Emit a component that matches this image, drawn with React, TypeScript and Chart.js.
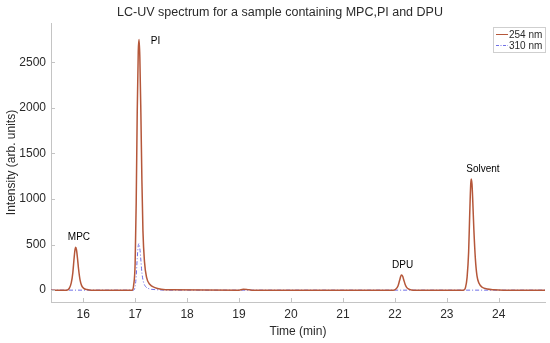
import React, { useEffect, useRef } from "react";
import { Chart, registerables } from "chart.js";

Chart.register(...registerables);

const TITLE = "LC-UV spectrum for a sample containing MPC,PI and DPU";
const X_LABEL = "Time (min)";
const Y_LABEL = "Intensity (arb. units)";
const SERIES_NAMES = ["254 nm", "310 nm"];
const X_MIN = 15.38;
const X_MAX = 24.89;
const Y_MIN = -130;
const Y_MAX = 2930;
const X_TICKS = [16, 17, 18, 19, 20, 21, 22, 23, 24];
const Y_TICKS = [0, 500, 1000, 1500, 2000, 2500];

// 254 nm trace (time, intensity)
const T254 = [
  15.38, 15.68, 15.73, 15.77, 15.8, 15.82, 15.84, 15.855, 15.87, 15.89, 15.91, 15.94, 15.97, 16.01, 16.07, 16.16,
  16.94, 16.97, 17.0, 17.02, 17.04, 17.06, 17.075, 17.09, 17.11, 17.13, 17.15, 17.18, 17.22, 17.28, 17.38, 17.5, 17.7,
  19.0, 19.08, 19.15, 19.25,
  21.97, 22.02, 22.06, 22.09, 22.115, 22.13, 22.15, 22.17, 22.2, 22.23, 22.28, 22.36,
  23.32, 23.36, 23.39, 23.42, 23.44, 23.46, 23.47, 23.485, 23.5, 23.52, 23.55, 23.58, 23.62, 23.68, 23.78, 23.9, 24.1,
  24.89,
];
const V254 = [
  0, 0, 18, 80, 190, 320, 435, 470, 445, 350, 235, 110, 50, 20, 6, 0,
  0, 50, 300, 950, 1950, 2620, 2750, 2560, 1950, 1200, 650, 310, 140, 65, 28, 10, 3,
  0, 10, 8, 0,
  0, 12, 45, 105, 155, 165, 152, 115, 60, 28, 9, 0,
  0, 30, 140, 420, 820, 1160, 1220, 1160, 970, 670, 340, 160, 75, 32, 12, 4, 0,
  0,
];

// 310 nm trace (time, intensity)
const T310 = [
  15.38, 16.97, 17.0, 17.02, 17.04, 17.06, 17.075, 17.09, 17.11, 17.13, 17.16, 17.2, 17.27, 17.4, 17.6, 24.89,
];
const V310 = [0, 0, 40, 150, 350, 490, 510, 460, 330, 190, 90, 40, 15, 5, 0, 0];

// Peak annotations
const PEAK_NAMES = ["MPC", "PI", "DPU", "Solvent"];
const PEAK_X = [15.86, 17.07, 22.13, 23.47];
const PEAK_Y = [470, 2750, 165, 1220];

const COLOR_254 = "#B5573A";
const COLOR_310 = "#6F6FE6";
const AXIS_COLOR = "#c4c4c4";
const TEXT_COLOR = "#2a2a2a";
const FONT = "'Liberation Sans', Arial, sans-serif";

export default function App() {
  const ref = useRef<HTMLCanvasElement | null>(null);

  useEffect(() => {
    if (!ref.current) return;
    const d254 = T254.map((t, i) => ({ x: t, y: V254[i] }));
    const d310 = T310.map((t, i) => ({ x: t, y: V310[i] }));

    const decor = {
      id: "decor",
      afterDraw(chart: any) {
        const ctx = chart.ctx;
        const xs = chart.scales.x;
        const ys = chart.scales.y;
        const area = chart.chartArea;
        ctx.save();
        // inward ticks
        ctx.strokeStyle = AXIS_COLOR;
        ctx.lineWidth = 1;
        X_TICKS.forEach((t) => {
          const px = Math.round(xs.getPixelForValue(t)) + 0.5;
          ctx.beginPath();
          ctx.moveTo(px, area.bottom);
          ctx.lineTo(px, area.bottom - 4);
          ctx.stroke();
        });
        Y_TICKS.forEach((t) => {
          const py = Math.round(ys.getPixelForValue(t)) + 0.5;
          ctx.beginPath();
          ctx.moveTo(area.left, py);
          ctx.lineTo(area.left + 4, py);
          ctx.stroke();
        });
        // title
        ctx.fillStyle = TEXT_COLOR;
        ctx.font = `12.5px ${FONT}`;
        ctx.textAlign = "center";
        ctx.textBaseline = "middle";
        ctx.fillText(TITLE, 280, 13);
        // peak labels
        ctx.font = `10px ${FONT}`;
        ctx.fillStyle = "#000";
        PEAK_NAMES.forEach((n, i) => {
          const px = xs.getPixelForValue(PEAK_X[i]);
          const py = ys.getPixelForValue(PEAK_Y[i]);
          if (n === "PI") {
            ctx.textAlign = "left";
            ctx.fillText(n, px + 12, py + 2);
          } else if (n === "Solvent") {
            ctx.textAlign = "left";
            ctx.fillText(n, px - 5, py - 10);
          } else {
            ctx.textAlign = "center";
            ctx.fillText(n, px + (n === "MPC" ? 3 : 1), py - 10);
          }
        });
        // legend
        const lx = 493, ly = 27, lw = 52, lh = 25;
        ctx.fillStyle = "#fff";
        ctx.fillRect(lx, ly, lw, lh);
        ctx.strokeStyle = "#cfcfcf";
        ctx.strokeRect(lx + 0.5, ly + 0.5, lw, lh);
        ctx.font = `10px ${FONT}`;
        ctx.textAlign = "left";
        ctx.fillStyle = TEXT_COLOR;
        const rows = [
          { c: COLOR_254, dash: [] as number[] },
          { c: COLOR_310, dash: [3, 1.5, 1, 1.5] },
        ];
        rows.forEach((r, i) => {
          const y = ly + 7.5 + i * 11;
          ctx.strokeStyle = r.c;
          ctx.setLineDash(r.dash);
          ctx.beginPath();
          ctx.moveTo(lx + 3, y);
          ctx.lineTo(lx + 15, y);
          ctx.stroke();
          ctx.setLineDash([]);
          ctx.fillText(SERIES_NAMES[i], lx + 16, y + 0.5);
        });
        ctx.restore();
      },
    };

    const chart = new Chart(ref.current, {
      type: "line",
      data: {
        datasets: [
          {
            label: SERIES_NAMES[0],
            data: d254,
            borderColor: COLOR_254,
            borderWidth: 1.5,
            pointRadius: 0,
            cubicInterpolationMode: "monotone",
            fill: false,
          },
          {
            label: SERIES_NAMES[1],
            data: d310,
            borderColor: COLOR_310,
            borderWidth: 1,
            borderDash: [4, 2, 1, 2],
            pointRadius: 0,
            cubicInterpolationMode: "monotone",
            fill: false,
          },
        ],
      },
      options: {
        animation: false,
        responsive: false,
        layout: { padding: { top: 23, right: 5, left: 0, bottom: 0 } },
        plugins: { legend: { display: false }, title: { display: false }, tooltip: { enabled: false } },
        scales: {
          x: {
            type: "linear",
            min: X_MIN,
            max: X_MAX,
            afterBuildTicks: (s: any) => {
              s.ticks = X_TICKS.map((v) => ({ value: v }));
            },
            afterFit: (s: any) => {
              s.height = 41;
            },
            grid: { display: true, drawOnChartArea: false, drawTicks: false, color: AXIS_COLOR },
            border: { display: true, color: AXIS_COLOR },
            ticks: {
              padding: 5,
              color: TEXT_COLOR,
              font: { family: FONT, size: 12 },
              maxRotation: 0,
              callback: (v: any) => String(v),
            },
            title: { display: true, text: X_LABEL, color: TEXT_COLOR, font: { family: FONT, size: 12 }, padding: { top: 0, bottom: 4 } },
          },
          y: {
            type: "linear",
            min: Y_MIN,
            max: Y_MAX,
            afterBuildTicks: (s: any) => {
              s.ticks = Y_TICKS.map((v) => ({ value: v }));
            },
            afterFit: (s: any) => {
              s.width = 51;
            },
            grid: { display: true, drawOnChartArea: false, drawTicks: false, color: AXIS_COLOR },
            border: { display: true, color: AXIS_COLOR },
            ticks: {
              padding: 5,
              color: TEXT_COLOR,
              font: { family: FONT, size: 12 },
              callback: (v: any) => String(v),
            },
            title: { display: true, text: Y_LABEL, color: TEXT_COLOR, font: { family: FONT, size: 12 }, padding: { top: 4, bottom: 0 } },
          },
        },
      },
      plugins: [decor],
    } as any);
    return () => chart.destroy();
  }, []);

  return (
    <div style={{ position: "fixed", left: 0, top: 0, width: 550, height: 343, background: "#fff" }}>
      <canvas ref={ref} width={550} height={343} />
    </div>
  );
}
